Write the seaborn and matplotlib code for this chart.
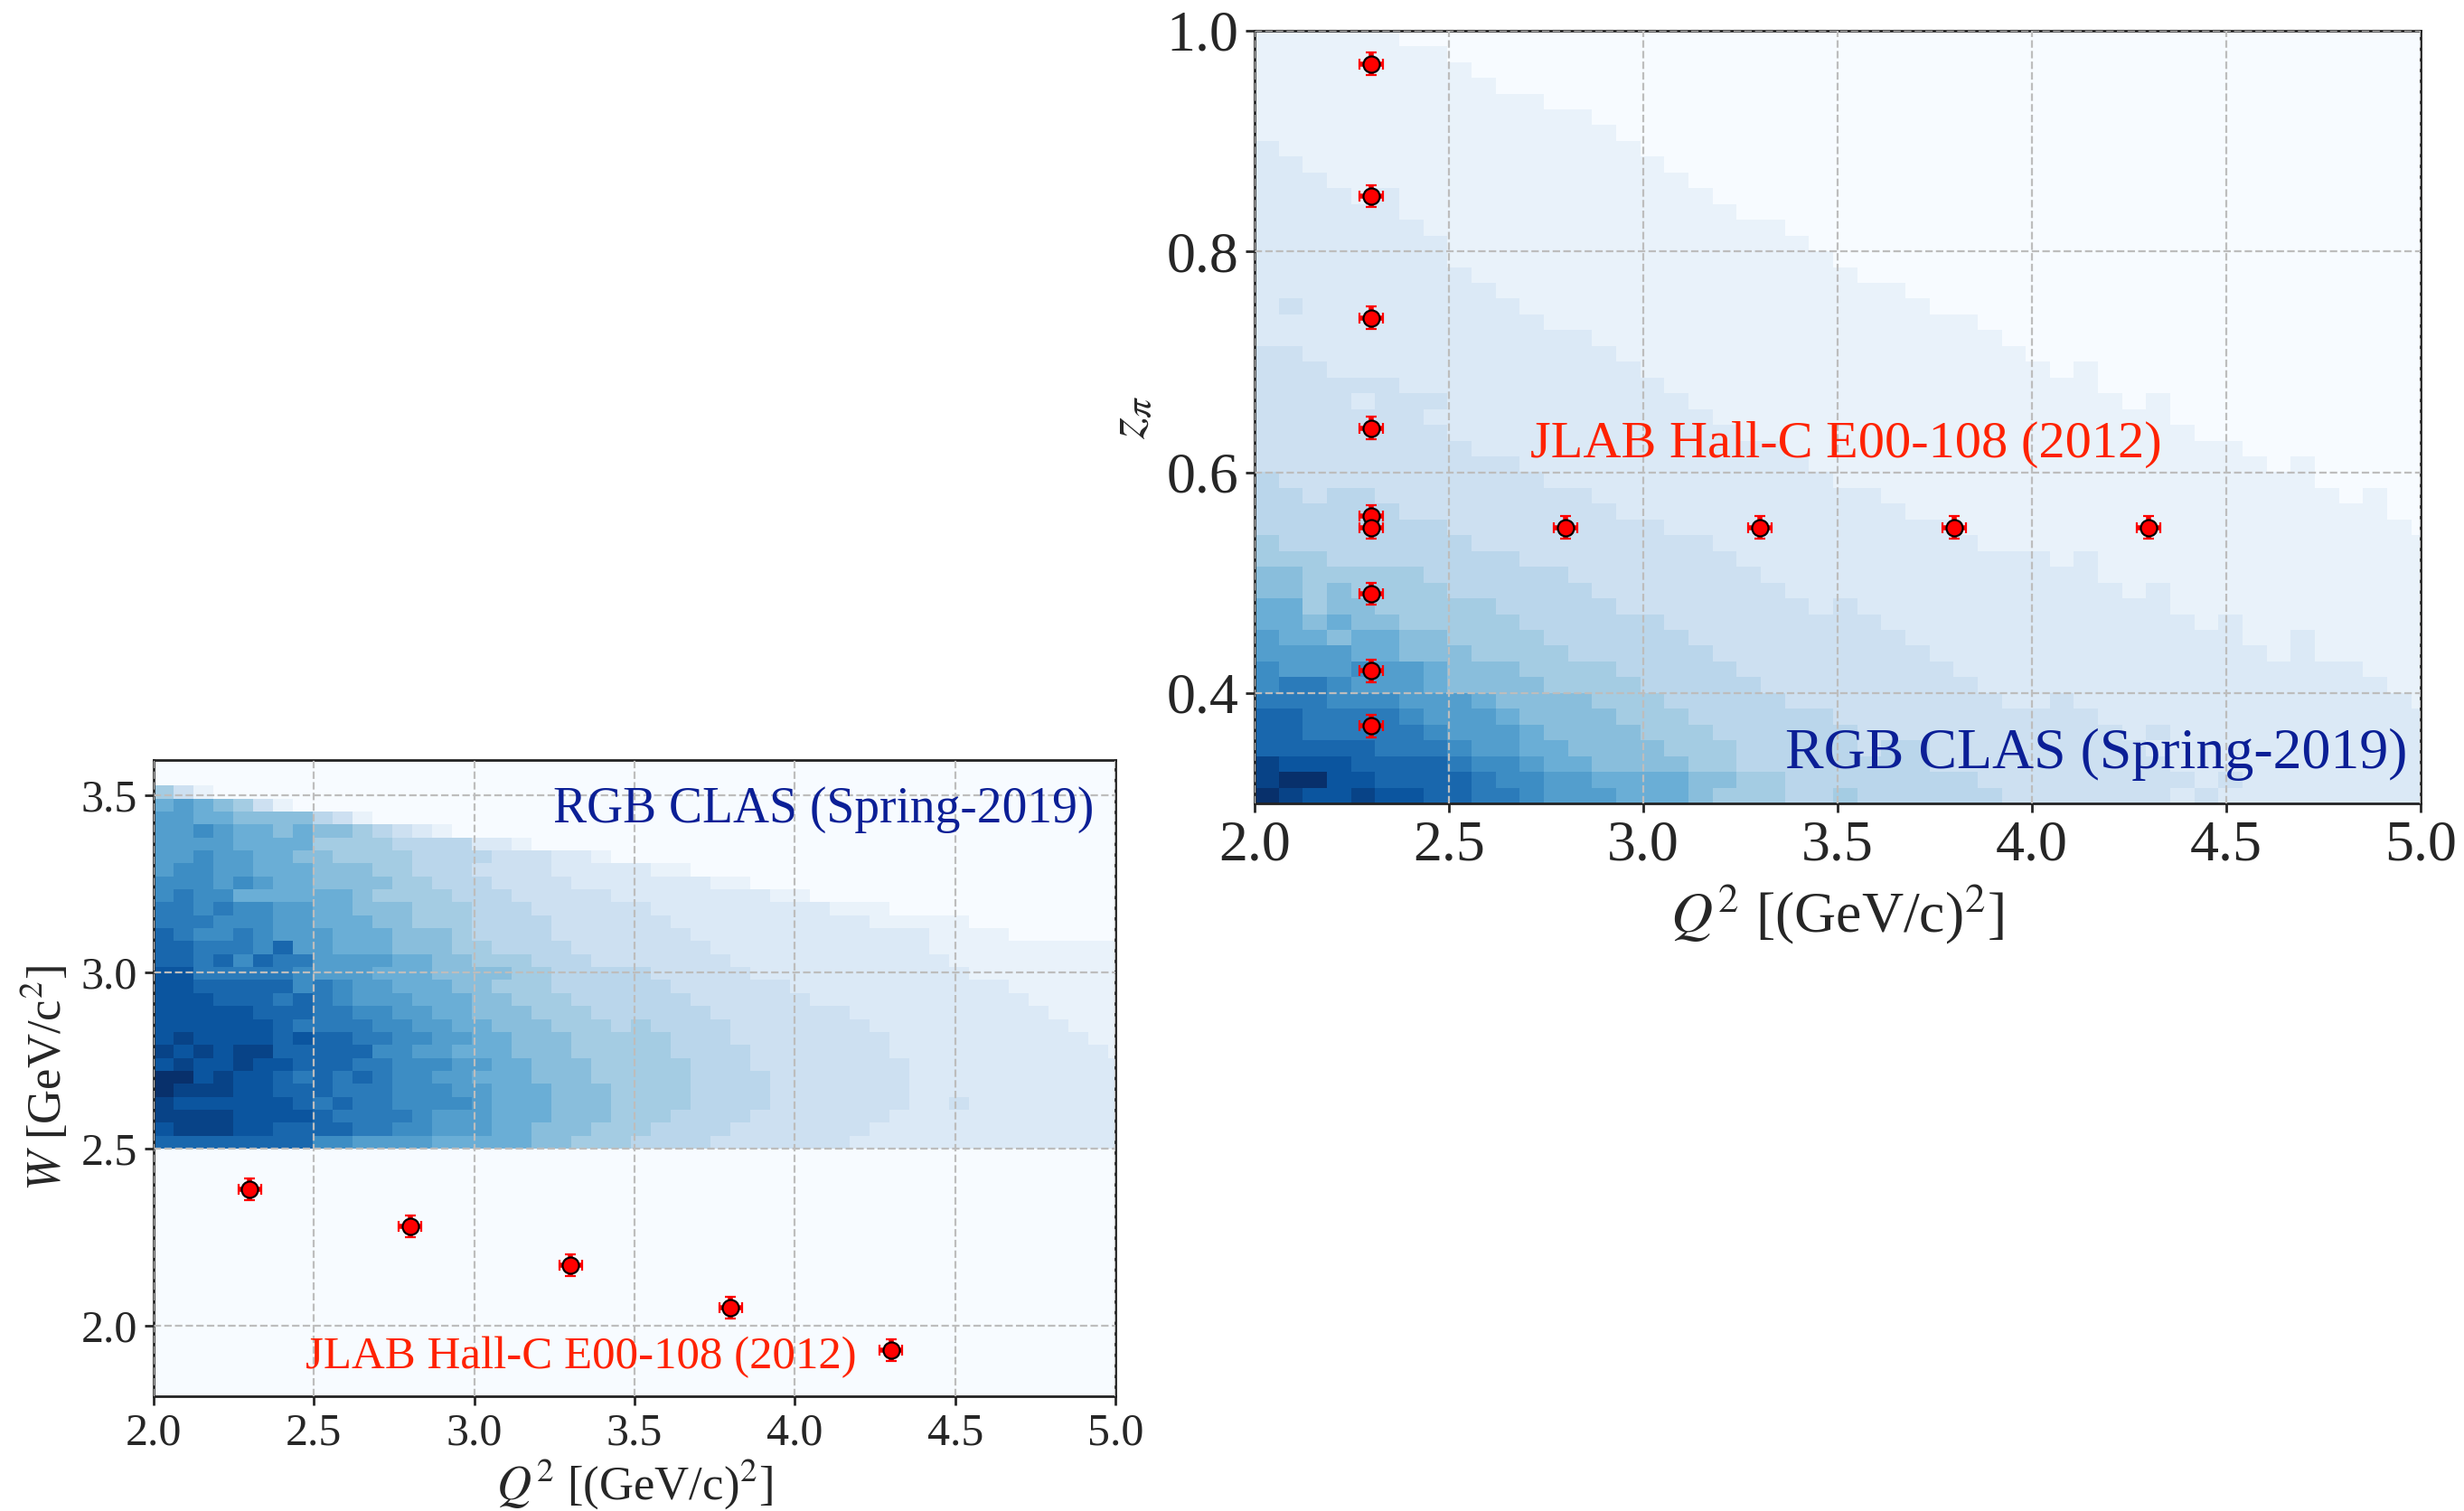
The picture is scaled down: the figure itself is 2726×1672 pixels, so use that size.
import numpy as np
import pandas as pd
import matplotlib
matplotlib.use("Agg")
import matplotlib.pyplot as plt
import seaborn as sns

# ---------------------------------------------------------------------------
# Binning of the two RGB CLAS 2D histograms
# ---------------------------------------------------------------------------
Q2_LO, Q2_STEP, N_Q2 = 2.0, 0.062, 49
W_LO, W_STEP = 2.5, 0.0367
Z_LO, Z_STEP = 0.3, 0.01429

# W vs Q2 counts (level 0-f), highest-W row first, one char per Q2 bin
W_ROWS = [
    "64210000 00000000 00000000 0000000000000000000000000",
    "89876421 00000000 00000000 0000000000000000000000000",
    "99887777 54210000 00000000 0000000000000000000000000",
    "99a98878 77654321 00000000 0000000000000000000000000",
    "99998888 66665555 33210000 0000000000000000000000000",
    "99a99887 76666555 54443321 0000000000000000000000000",
    "9aa99888 77766555 44443333 3221000000000000000000000",
    "aaa9a988 77776655 54444333 3333221100000000000000000",
    "abaa8888 88766665 55444443 3333333221100000000000000",
    "bbabaa99 88777666 55544444 4333333333222110000000000",
    "bbbaaa99 88877666 55554444 4433333333332222211000000",
    "cbaaba99 98887776 55554444 4443333333333332222110000",
    "ccbbbac9 98887776 65555444 4444333333333332222222222",
    "ccbcacbb 99998877 66655544 4444433333333333222222222",
    "ddbbbbba 99988877 77665555 5444443333333333322222222",
    "ddccccca ba998887 76665555 5544444433333333333222222",
    "dddcccbc ba999888 77666555 5554444443333333333322222",
    "dddddccc bbaa9988 77766655 5555444444433333333332222",
    "ddddddcb bbbaa998 87776665 6555544444443333333333222",
    "deddddcd ccbbaa99 88777666 6655544444444333333333322",
    "ededeecc cccaa998 88777666 6655554444444333333333332",
    "deddeddc ccbbaaa9 98877766 6665554444444433333333333",
    "ffdeddcb cbcbaa99 88877766 6665555444444433333333333",
    "feeeddcc cbbbaaa9 98887776 6665555444444433333333333",
    "eddddddc bcbbaaaa 98887776 6665555444444433433333333",
    "eeeedddd cbbbba99 98887776 6655554444444333333333333",
    "deeeddcc ccbbaa99 98877766 6555544444443333333333333",
    "cccccccc aa999988 88877666 5555444444433333333333333",
]

# z_pi vs Q2 counts (level 0-f), highest-z row first
Z_ROWS = [
    "22222211 11111111 11111111 11111111 11111111 111111111",
    "22222222 11111111 11111111 11111111 11111111 111111111",
    "22222222 21111111 11111111 11111111 11111111 111111111",
    "22222222 22111111 11111111 11111111 11111111 111111111",
    "22222222 22221111 11111111 11111111 11111111 111111111",
    "22222222 22222211 11111111 11111111 11111111 111111111",
    "22222222 22222221 11111111 11111111 11111111 111111111",
    "32222222 22222222 11111111 11111111 11111111 111111111",
    "33222222 22222222 21111111 11111111 11111111 111111111",
    "33322222 22222222 22111111 11111111 11111111 111111111",
    "33332322 22222222 22211111 11111111 11111111 111111111",
    "33333322 22222222 22221111 11111111 11111111 111111111",
    "33333332 22222222 22222211 11111111 11111111 111111111",
    "33333333 22222222 22222221 11111111 11111111 111111111",
    "33333333 22222222 22222222 11111111 11111111 111111111",
    "33333333 32222222 22222222 21111111 11111111 111111111",
    "33333333 33222222 22222222 22211111 11111111 111111111",
    "34333333 33322222 22222222 22221111 11111111 111111111",
    "33333333 33332222 22222222 22222211 11111111 111111111",
    "33333333 33333322 22222222 22222221 11111111 111111111",
    "44333333 33333332 22222222 22222222 11111111 111111111",
    "44433333 33333333 22222222 22222222 21211111 111111111",
    "44444433 33333333 32222222 22222222 22211111 111111111",
    "44443444 33333333 33222222 22222222 22221211 111111111",
    "44444443 33333333 33322222 22222222 22222211 111111111",
    "44444444 33333333 33332222 22222222 22222221 111111111",
    "44444444 43333333 33333322 22222222 22222222 211111111",
    "44444444 44433333 33333332 22222222 22222222 221211111",
    "54444444 44443333 33333333 22222222 22222222 222211111",
    "55455444 44444433 33333333 33222222 22222222 222221211",
    "55555544 44444443 33333333 33322222 22222222 222222211",
    "55555555 44444444 43333333 33333222 22222222 222222221",
    "65555555 54444444 44433333 33333322 22222222 222222222",
    "66655555 55544444 44443333 33333333 32322222 222222222",
    "77666665 55555444 44444333 33333333 33322222 222222222",
    "77676666 55555544 44444433 33333333 33332322 222222222",
    "88677666 66555554 44444443 43333333 33333322 222222222",
    "88787766 66655555 54444444 44333333 33333332 322222222",
    "98878877 66665555 55444444 44433333 33333333 322322222",
    "99998877 76666555 55544444 44443333 33333333 332322222",
    "a999a998 77766665 55554444 44444333 33333333 333333222",
    "abba9998 77776666 55555444 44444433 33333333 333333322",
    "bbbaaa99 98777766 65555544 44444443 34333333 333333332",
    "ccbbbba9 99877776 66555555 44444444 44433333 333333333",
    "ccbbbbba 99987777 66655555 54444444 44443433 333333333",
    "cccccbbb a9988777 76665555 54554444 44444333 333333333",
    "edddcccc baa98877 77665555 55554444 44444433 333333333",
    "effddccc cbaa9988 88776655 55555544 44444443 433333333",
    "feddeddc cbba9998 88766655 65555554 44444434 333333333",
]

# JLAB Hall-C E00-108 (2012) kinematic points
JLAB_Q2 = [2.3, 2.8, 3.3, 3.8, 4.3]
JLAB_W = [2.385, 2.28, 2.17, 2.05, 1.93]
JLAB_Q2_Z = [2.3, 2.3, 2.3, 2.3, 2.3, 2.3, 2.3, 2.3, 2.3, 2.8, 3.3, 3.8, 4.3]
JLAB_Z = [0.97, 0.85, 0.74, 0.64, 0.56, 0.55, 0.49, 0.42, 0.37, 0.55, 0.55, 0.55, 0.55]

BLUE_TXT = "#0b1f96"
RED_TXT = "#ff2200"


def decode(rows):
    grid = [[int(c, 16) for c in "".join(r.split()).ljust(N_Q2, "0")[:N_Q2]]
            for r in rows]
    return np.array(grid[::-1], dtype=float)   # lowest row first


def to_table(grid, y_lo, y_step, yname):
    q2_edges = Q2_LO + Q2_STEP * np.arange(grid.shape[1] + 1)
    y_edges = y_lo + y_step * np.arange(grid.shape[0] + 1)
    q2_mid = 0.5 * (q2_edges[:-1] + q2_edges[1:])
    y_mid = 0.5 * (y_edges[:-1] + y_edges[1:])
    yy, xx = np.meshgrid(y_mid, q2_mid, indexing="ij")
    df = pd.DataFrame({"q2": xx.ravel(), yname: yy.ravel(), "n": grid.ravel()})
    return df[df["n"] > 0], q2_edges, y_edges


sns.set_theme(style="white")
plt.rcParams["font.family"] = ["Liberation Serif", "DejaVu Serif"]
plt.rcParams["mathtext.fontset"] = "stix"

fig = plt.figure(figsize=(13.63, 8.36), dpi=200)
ax_w = fig.add_axes([0.0624, 0.0760, 0.3903, 0.4211])
ax_z = fig.add_axes([0.5092, 0.4683, 0.4732, 0.5114])


def style_axes(ax, tick_fs):
    ax.set_facecolor("#f7fbff")
    ax.set_axisbelow(False)
    ax.grid(True, linestyle="--", linewidth=0.8, color="#bdbdbd")
    for sp in ax.spines.values():
        sp.set_visible(True)
        sp.set_color("#222222")
        sp.set_linewidth(1.0)
    ax.tick_params(direction="out", length=3.5, width=1.0, labelsize=tick_fs,
                   bottom=True, left=True, top=False, right=False, pad=3)
    ax.set_xlim(2.0, 5.0)
    ax.set_xticks([2.0, 2.5, 3.0, 3.5, 4.0, 4.5, 5.0])


def jlab_points(ax, x, y, xerr, yerr):
    ax.errorbar(x, y, xerr=xerr, yerr=yerr, fmt="o", color="red",
                ms=6.5, mfc="red", mec="black", mew=0.8,
                elinewidth=2.0, capsize=2.0, capthick=2.6, zorder=4)


# ---- W vs Q2 -------------------------------------------------------------
df_w, q2e, we = to_table(decode(W_ROWS), W_LO, W_STEP, "w")
sns.histplot(data=df_w, x="q2", y="w", weights="n", bins=[q2e, we],
             cmap="Blues", vmin=1.0, vmax=15, ax=ax_w)
style_axes(ax_w, 18)
ax_w.set_ylim(1.8, 3.6)
ax_w.set_yticks([2.0, 2.5, 3.0, 3.5])
jlab_points(ax_w, JLAB_Q2, JLAB_W, 0.035, 0.03)
ax_w.text(4.934, 3.424, "RGB CLAS (Spring-2019)", color=BLUE_TXT,
          fontsize=20, ha="right", va="baseline", zorder=5)
ax_w.text(2.473, 1.8775, "JLAB Hall-C E00-108 (2012)", color=RED_TXT,
          fontsize=18.3, ha="left", va="baseline", zorder=5)
ax_w.set_xlabel(r"$Q^2$ [(GeV/c)$^2$]", fontsize=19, labelpad=1)
ax_w.set_ylabel(r"$W$ [GeV/c$^2$]", fontsize=19)

# ---- z_pi vs Q2 ----------------------------------------------------------
df_z, q2e, ze = to_table(decode(Z_ROWS), Z_LO, Z_STEP, "z")
sns.histplot(data=df_z, x="q2", y="z", weights="n", bins=[q2e, ze],
             cmap="Blues", vmin=1.0, vmax=15, ax=ax_z)
style_axes(ax_z, 23)
ax_z.set_ylim(0.3, 1.0)
ax_z.set_yticks([0.4, 0.6, 0.8, 1.0])
jlab_points(ax_z, JLAB_Q2_Z, JLAB_Z, 0.03, 0.01)
ax_z.text(2.709, 0.6137, "JLAB Hall-C E00-108 (2012)", color=RED_TXT,
          fontsize=21, ha="left", va="baseline", zorder=5)
ax_z.text(4.965, 0.332, "RGB CLAS (Spring-2019)", color=BLUE_TXT,
          fontsize=23, ha="right", va="baseline", zorder=5)
ax_z.set_xlabel(r"$Q^2$ [(GeV/c)$^2$]", fontsize=23)
ax_z.set_ylabel(r"$z_{\pi}$", fontsize=22)

fig.savefig("out.png", dpi=200)
